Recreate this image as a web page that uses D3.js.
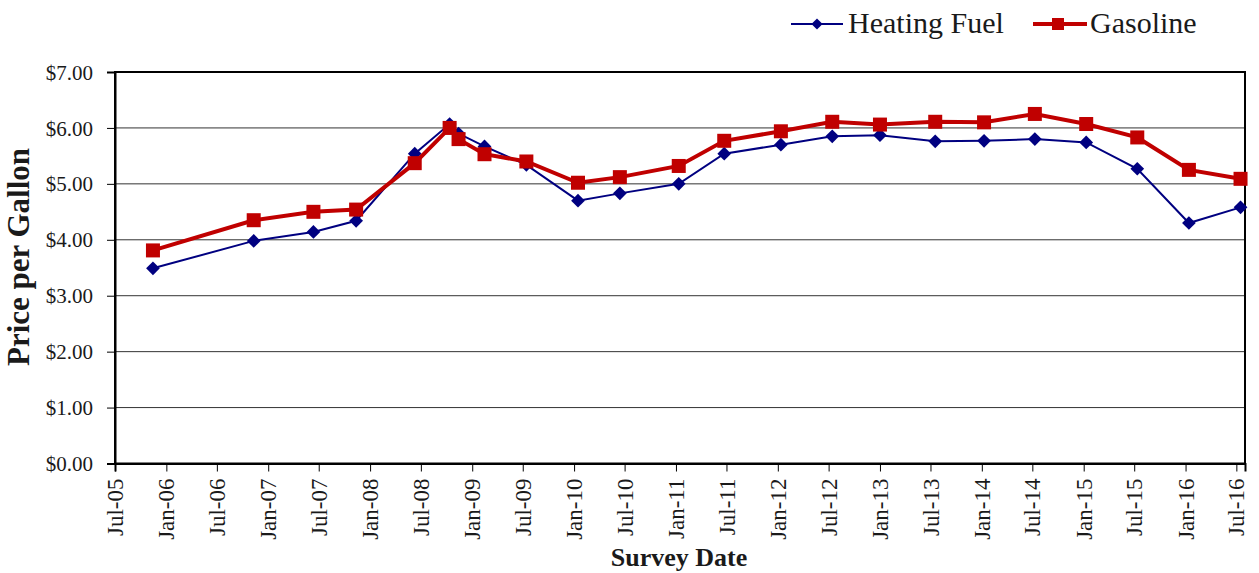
<!DOCTYPE html>
<html lang="en">
<head>
<meta charset="UTF-8">
<title>Heating Fuel and Gasoline Prices</title>
<script src="https://d3js.org/d3.v7.min.js"></script>
<style>
  body { margin: 0; background: #fff; }
  svg text { font-family: "Liberation Serif", "DejaVu Serif", serif; fill: #1a1a1a; }
</style>
</head>
<body>
<svg id="chart"></svg>
<script>
// survey dates (approximate)
const surveyDates = [
  "2005-11-14", "2006-11-10", "2007-06-12", "2007-11-12", "2008-06-09",
  "2008-10-12", "2008-11-13", "2009-02-14", "2009-07-14", "2010-01-15",
  "2010-06-14", "2011-01-11", "2011-06-23", "2012-01-12", "2012-07-14",
  "2013-01-01", "2013-07-18", "2014-01-09", "2014-07-10", "2015-01-10",
  "2015-07-12", "2016-01-13", "2016-07-16"
];
const heatingFuel = [
  3.49, 3.98, 4.14, 4.34, 5.54, 6.07, 5.90, 5.67, 5.34, 4.70,
  4.83, 5.00, 5.54, 5.70, 5.85, 5.87, 5.76, 5.77, 5.80, 5.74,
  5.27, 4.30, 4.58
];
const gasoline = [
  3.81, 4.35, 4.50, 4.54, 5.37, 6.00, 5.80, 5.53, 5.40, 5.02,
  5.12, 5.32, 5.77, 5.94, 6.11, 6.06, 6.11, 6.10, 6.25, 6.07,
  5.83, 5.25, 5.09
];
const yTicks = [0, 1, 2, 3, 4, 5, 6, 7];

const width = 1259, height = 573;
const margin = { left: 115, right: 14, top: 72, bottom: 110 };

const parse = d3.timeParse("%Y-%m-%d");
const dates = surveyDates.map(parse);

const svg = d3.select("#chart").attr("width", width).attr("height", height);

const x = d3.scaleTime()
  .domain([new Date(2005, 6, 1), new Date(2016, 7, 1)])
  .range([margin.left, width - margin.right]);
const y = d3.scaleLinear()
  .domain([0, 7])
  .range([height - margin.bottom + 0.5, margin.top]);

// gridlines
svg.append("g")
  .selectAll("line")
  .data(yTicks.slice(1))
  .join("line")
  .attr("x1", margin.left).attr("x2", width - margin.right)
  .attr("y1", d => y(d)).attr("y2", d => y(d))
  .attr("stroke", "#333").attr("stroke-width", 1);

// frame
svg.append("rect")
  .attr("x", margin.left).attr("y", margin.top)
  .attr("width", width - margin.right - margin.left)
  .attr("height", y(0) - margin.top)
  .attr("fill", "none").attr("stroke", "#000").attr("stroke-width", 2);

// y axis
const yAxis = svg.append("g")
  .attr("transform", `translate(${margin.left},0)`)
  .call(d3.axisLeft(y).tickValues(yTicks).tickFormat(d => "$" + d.toFixed(2)).tickSize(8).tickPadding(14));
yAxis.attr("font-size", null).attr("font-family", null);
yAxis.select(".domain").attr("stroke-width", 2);
yAxis.selectAll("text").style("font-size", "21px").attr("fill", "#222").attr("dy", "0.34em");

// x axis
const xAxis = svg.append("g")
  .attr("transform", `translate(0,${y(0)})`)
  .call(d3.axisBottom(x).ticks(d3.timeMonth.every(6)).tickFormat(d3.timeFormat("%b-%y")).tickSize(8));
xAxis.attr("font-size", null).attr("font-family", null);
xAxis.select(".domain").attr("stroke-width", 2);
xAxis.selectAll("text")
  .style("font-size", "23px").attr("fill", "#222")
  .attr("transform", "rotate(-90)")
  .attr("text-anchor", "end")
  .attr("x", -15).attr("y", 0).attr("dy", "0.33em");

// axis titles
svg.append("text")
  .attr("transform", "translate(29,257) rotate(-90)")
  .attr("text-anchor", "middle")
  .style("font-size", "31px").style("font-weight", "bold")
  .text("Price per Gallon");
svg.append("text")
  .attr("x", 679).attr("y", 566)
  .attr("text-anchor", "middle")
  .style("font-size", "26px").style("font-weight", "bold")
  .text("Survey Date");

// series
const heatData = dates.map((d, i) => ({ date: d, value: heatingFuel[i] }));
const gasData = dates.map((d, i) => ({ date: d, value: gasoline[i] }));
const line = d3.line().x(d => x(d.date)).y(d => y(d.value));

svg.append("path").datum(heatData)
  .attr("d", line).attr("fill", "none")
  .attr("stroke", "#000080").attr("stroke-width", 2);
svg.append("g").selectAll("path")
  .data(heatData).join("path")
  .attr("d", d3.symbol(d3.symbolDiamond2, 120))
  .attr("transform", d => `translate(${x(d.date)},${y(d.value)})`)
  .attr("fill", "#000080");

svg.append("path").datum(gasData)
  .attr("d", line).attr("fill", "none")
  .attr("stroke", "#c00000").attr("stroke-width", 4);
svg.append("g").selectAll("rect")
  .data(gasData).join("rect")
  .attr("x", d => x(d.date) - 7).attr("y", d => y(d.value) - 7)
  .attr("width", 14).attr("height", 14)
  .attr("fill", "#c00000");

// legend
const legend = svg.append("g").attr("transform", "translate(0,24)");
legend.append("line").attr("x1", 791).attr("x2", 843).attr("stroke", "#000080").attr("stroke-width", 2);
legend.append("path").attr("d", d3.symbol(d3.symbolDiamond2, 80)).attr("transform", "translate(817,0)").attr("fill", "#000080");
legend.append("text").attr("x", 848).attr("y", 9).style("font-size", "30px").text("Heating Fuel");
legend.append("line").attr("x1", 1033).attr("x2", 1087).attr("stroke", "#c00000").attr("stroke-width", 4);
legend.append("rect").attr("x", 1052).attr("y", -6).attr("width", 12).attr("height", 12).attr("fill", "#c00000");
legend.append("text").attr("x", 1090).attr("y", 9).style("font-size", "30px").text("Gasoline");
</script>
</body>
</html>
